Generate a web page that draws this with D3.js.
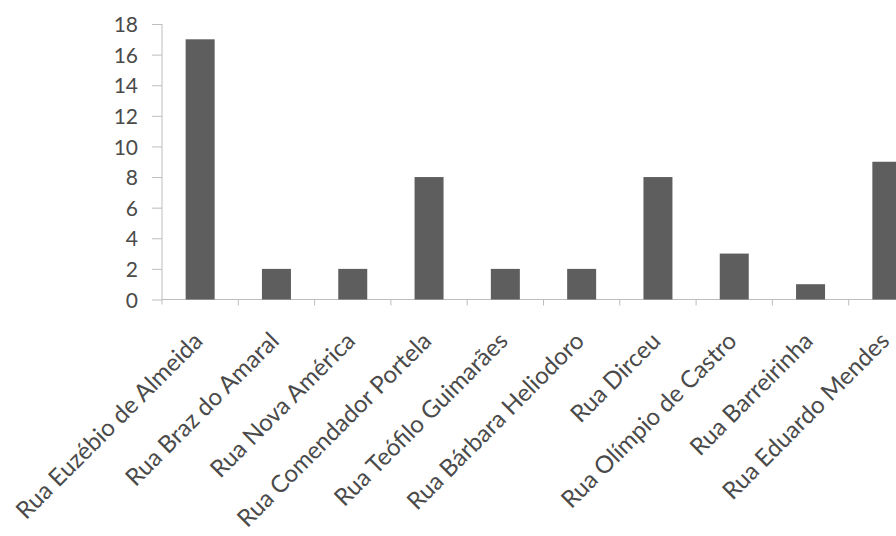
<!DOCTYPE html>
<html>
<head>
<meta charset="utf-8">
<script src="https://cdn.jsdelivr.net/npm/d3@7"></script>
<style>
  body { margin: 0; background: #fff; }
  svg text { font-family: Lato, "Open Sans", sans-serif; fill: #4a4a4a; }
</style>
</head>
<body>
<svg id="chart" width="896" height="536"></svg>
<script>
// Data
const streets = [
  'Rua Euzébio de Almeida', 'Rua Braz do Amaral', 'Rua Nova América',
  'Rua Comendador Portela', 'Rua Teófilo Guimarães', 'Rua Bárbara Heliodoro',
  'Rua Dirceu', 'Rua Olímpio de Castro', 'Rua Barreirinha', 'Rua Eduardo Mendes'
]
const counts = [17, 2, 2, 8, 2, 2, 8, 3, 1, 9]
const y_ticks = [0, 2, 4, 6, 8, 10, 12, 14, 16, 18]

// Layout
const x0 = 162
const step = 76.3
const y_top = 24
const y_base = 299.5

let svg = d3.select('#chart')

let x = d3.scaleBand()
  .domain(streets)
  .range([x0, x0 + step * streets.length])
  .paddingInner(0.62)
  .paddingOuter(0.31)

let y = d3.scaleLinear()
  .domain([0, 18])
  .range([y_base, y_top])

// Y axis
let y_axis = svg.append('g')
  .attr('transform', `translate(${x0},0)`)
  .call(d3.axisLeft(y).tickValues(y_ticks).tickSize(10).tickPadding(14))
y_axis.select('.domain').remove()
y_axis.selectAll('.tick line').attr('stroke', '#bdbdbd')
y_axis.selectAll('.tick text')
  .style('font-size', '21px')
  .attr('dy', '0.36em')

// axis lines
svg.append('line')
  .attr('x1', x0).attr('x2', x0)
  .attr('y1', y_top).attr('y2', y_base + 5)
  .attr('stroke', '#bdbdbd')
svg.append('line')
  .attr('x1', x0).attr('x2', 896)
  .attr('y1', y_base).attr('y2', y_base)
  .attr('stroke', '#bdbdbd')

// category boundary ticks
svg.append('g')
  .selectAll('line')
  .data(streets.slice(1))
  .enter()
  .append('line')
    .attr('x1', d => x(d) - x.step() * x.paddingInner() / 2)
    .attr('x2', d => x(d) - x.step() * x.paddingInner() / 2)
    .attr('y1', y_base)
    .attr('y2', y_base + 6)
    .attr('stroke', '#bdbdbd')

// Bars
svg.append('g')
  .selectAll('rect')
  .data(counts)
  .enter()
  .append('rect')
    .attr('x', (d, i) => x(streets[i]))
    .attr('y', d => y(d))
    .attr('width', x.bandwidth())
    .attr('height', d => y_base - y(d))
    .attr('fill', '#5e5e5e')

// Category labels
svg.append('g')
  .selectAll('text')
  .data(streets)
  .enter()
  .append('text')
    .attr('transform', d => {
      let cx = x(d) + x.bandwidth() / 2 + 4
      return `translate(${cx},${y_base + 43}) rotate(-45)`
    })
    .attr('text-anchor', 'end')
    .style('font-size', '24px')
    .text(d => d)
</script>
</body>
</html>
